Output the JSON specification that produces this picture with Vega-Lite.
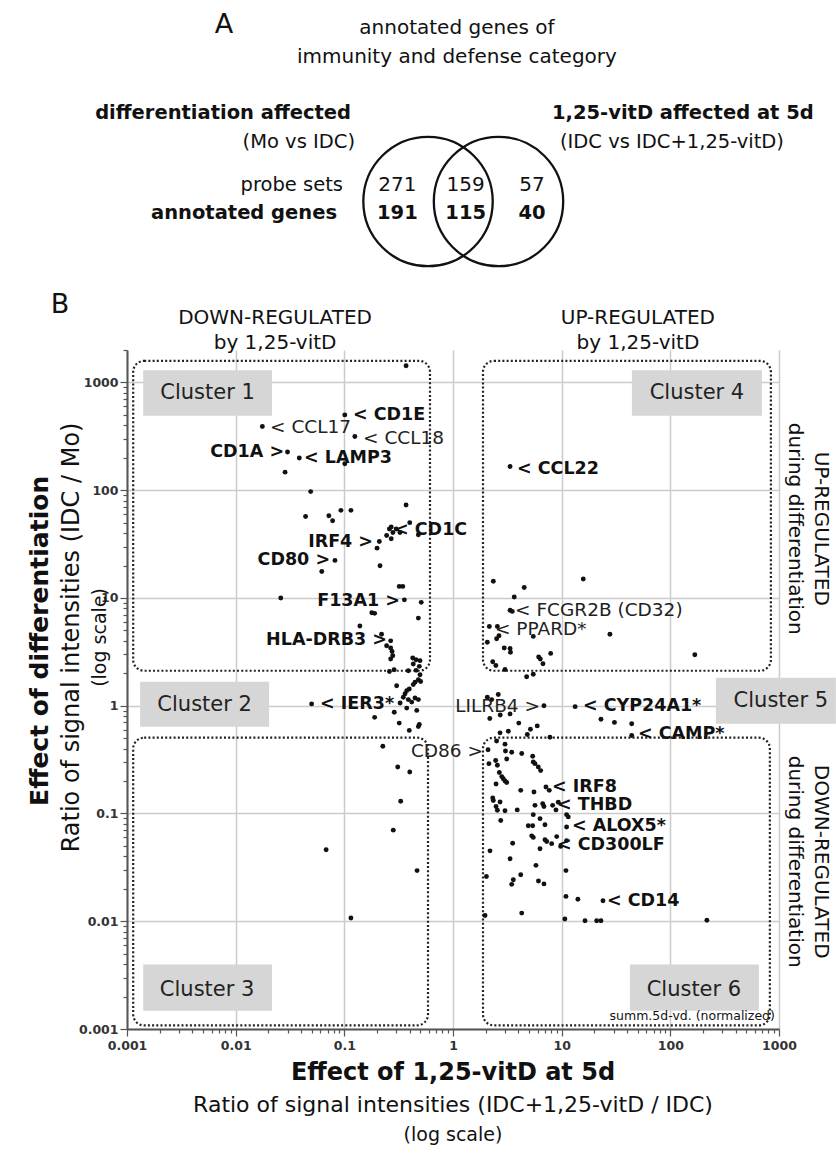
{
  "$schema": "https://vega.github.io/schema/vega-lite/v6.json",
  "background": "white",
  "padding": {"left": 28, "top": 5, "right": 0, "bottom": 5},
  "bounds": "flush",
  "spacing": 20,
  "config": {
    "view": {"stroke": null},
    "font": "DejaVu Sans",
    "text": {"font": "DejaVu Sans", "color": "#111"}
  },
  "datasets": {
    "venn_circles": [
      {"set": "differentiation affected (Mo vs IDC)", "u": 46.17, "v": 19.77},
      {"set": "1,25-vitD affected at 5d (IDC vs IDC+1,25-vitD)", "u": 56.98, "v": 19.77}
    ],
    "panel_a_letter": [{"text": "A", "u": 14.88, "v": 46.92}],
    "venn_heading": [
      {"text": "annotated genes  of", "u": 50.6, "v": 46.46},
      {"text": "immunity and defense category", "u": 50.6, "v": 42.0}
    ],
    "venn_left_bold": [
      {"text": "differentiation affected", "u": 34.36, "v": 33.38},
      {"text": "annotated genes", "u": 32.21, "v": 18.0}
    ],
    "venn_left_plain": [
      {"text": "(Mo vs IDC)", "u": 34.97, "v": 28.92},
      {"text": "probe sets", "u": 33.13, "v": 22.31}
    ],
    "venn_right_bold": [{"text": "1,25-vitD affected at 5d", "u": 65.18, "v": 33.38}],
    "venn_right_plain": [{"text": "(IDC vs IDC+1,25-vitD)", "u": 66.41, "v": 28.92}],
    "venn_probe_sets": [
      {"region": "differentiation only", "n": 271, "u": 41.47, "v": 22.31},
      {"region": "both", "n": 159, "u": 51.95, "v": 22.31},
      {"region": "1,25-vitD only", "n": 57, "u": 62.12, "v": 22.31}
    ],
    "venn_annotated_genes": [
      {"region": "differentiation only", "n": 191, "u": 41.47, "v": 18.0},
      {"region": "both", "n": 115, "u": 51.95, "v": 18.0},
      {"region": "1,25-vitD only", "n": 40, "u": 62.12, "v": 18.0}
    ],
    "genes": [
      {"x": 0.37, "y": 1430}, {"x": 0.101, "y": 500}, {"x": 0.0176, "y": 390}, {"x": 0.125, "y": 315},
      {"x": 0.030, "y": 226}, {"x": 0.0385, "y": 199}, {"x": 0.101, "y": 176}, {"x": 0.0285, "y": 147},
      {"x": 0.049, "y": 97}, {"x": 0.37, "y": 73}, {"x": 0.044, "y": 57}, {"x": 0.072, "y": 58},
      {"x": 0.078, "y": 52}, {"x": 0.093, "y": 65}, {"x": 0.115, "y": 65}, {"x": 0.40, "y": 50},
      {"x": 0.27, "y": 45.5}, {"x": 0.26, "y": 43.6}, {"x": 0.30, "y": 43.6}, {"x": 0.28, "y": 40.5},
      {"x": 0.325, "y": 40.5}, {"x": 0.245, "y": 38}, {"x": 0.27, "y": 35.4}, {"x": 0.48, "y": 38.6},
      {"x": 0.21, "y": 33.4}, {"x": 0.20, "y": 29}, {"x": 0.213, "y": 19.9}, {"x": 0.082, "y": 22.3},
      {"x": 0.062, "y": 17.6}, {"x": 0.32, "y": 12.8}, {"x": 0.345, "y": 12.8}, {"x": 0.357, "y": 9.6},
      {"x": 0.51, "y": 9.1}, {"x": 0.48, "y": 6.5}, {"x": 0.179, "y": 7.3}, {"x": 0.19, "y": 7.2},
      {"x": 0.026, "y": 10}, {"x": 0.139, "y": 5.5}, {"x": 0.22, "y": 4.6}, {"x": 0.267, "y": 4.0},
      {"x": 0.245, "y": 3.6}, {"x": 0.267, "y": 3.43}, {"x": 0.275, "y": 3.19}, {"x": 0.279, "y": 2.91},
      {"x": 0.267, "y": 2.71}, {"x": 0.426, "y": 2.77}, {"x": 0.457, "y": 2.67}, {"x": 0.497, "y": 2.62},
      {"x": 0.431, "y": 2.44}, {"x": 0.49, "y": 2.32}, {"x": 0.287, "y": 2.16}, {"x": 0.26, "y": 2.08},
      {"x": 0.388, "y": 2.11}, {"x": 0.457, "y": 2.13}, {"x": 0.497, "y": 1.94}, {"x": 0.48, "y": 1.74},
      {"x": 0.447, "y": 1.65}, {"x": 0.504, "y": 1.68}, {"x": 0.303, "y": 1.53}, {"x": 0.431, "y": 1.57},
      {"x": 0.396, "y": 1.43}, {"x": 0.375, "y": 1.38}, {"x": 0.362, "y": 1.29}, {"x": 0.349, "y": 1.2},
      {"x": 0.388, "y": 1.14}, {"x": 0.447, "y": 1.18}, {"x": 0.48, "y": 1.14}, {"x": 0.326, "y": 1.06},
      {"x": 0.417, "y": 1.08}, {"x": 0.375, "y": 0.95}, {"x": 0.288, "y": 0.87}, {"x": 0.464, "y": 0.905},
      {"x": 0.19, "y": 0.78}, {"x": 0.32, "y": 0.69}, {"x": 0.49, "y": 0.67}, {"x": 0.48, "y": 0.64},
      {"x": 0.396, "y": 0.59}, {"x": 0.050, "y": 1.04}, {"x": 0.226, "y": 0.42}, {"x": 0.31, "y": 0.27},
      {"x": 0.40, "y": 0.243}, {"x": 0.33, "y": 0.13}, {"x": 0.282, "y": 0.070}, {"x": 0.068, "y": 0.046},
      {"x": 0.467, "y": 0.0295}, {"x": 0.115, "y": 0.0107},
      {"x": 3.35, "y": 166}, {"x": 2.35, "y": 14.3}, {"x": 4.52, "y": 12.5}, {"x": 15.8, "y": 15},
      {"x": 3.66, "y": 10.2}, {"x": 3.35, "y": 7.7}, {"x": 3.51, "y": 7.5}, {"x": 2.16, "y": 5.44},
      {"x": 2.56, "y": 5.44}, {"x": 2.52, "y": 4.18}, {"x": 2.65, "y": 4.46}, {"x": 2.07, "y": 3.88},
      {"x": 5.48, "y": 4.4}, {"x": 27.8, "y": 4.6}, {"x": 2.96, "y": 3.43}, {"x": 3.35, "y": 3.4},
      {"x": 3.38, "y": 3.13}, {"x": 6.14, "y": 2.83}, {"x": 6.36, "y": 2.71}, {"x": 7.92, "y": 3.06},
      {"x": 6.73, "y": 2.45}, {"x": 2.32, "y": 2.56}, {"x": 2.48, "y": 2.36}, {"x": 3.01, "y": 2.17},
      {"x": 4.76, "y": 1.86}, {"x": 5.48, "y": 1.96}, {"x": 168, "y": 2.97},
      {"x": 6.87, "y": 1.0}, {"x": 13.3, "y": 0.98}, {"x": 23.0, "y": 0.75}, {"x": 30.6, "y": 0.70},
      {"x": 44.1, "y": 0.68}, {"x": 44.1, "y": 0.53}, {"x": 2.07, "y": 1.2}, {"x": 2.61, "y": 1.27},
      {"x": 2.27, "y": 1.14}, {"x": 2.18, "y": 0.76}, {"x": 2.72, "y": 0.82}, {"x": 3.35, "y": 0.84},
      {"x": 4.03, "y": 0.69}, {"x": 5.16, "y": 0.605}, {"x": 5.96, "y": 0.65}, {"x": 7.8, "y": 0.51},
      {"x": 2.71, "y": 0.56}, {"x": 3.23, "y": 0.58}, {"x": 4.83, "y": 0.54},
      {"x": 2.10, "y": 0.39}, {"x": 2.52, "y": 0.47}, {"x": 3.01, "y": 0.44}, {"x": 3.04, "y": 0.38},
      {"x": 3.47, "y": 0.37}, {"x": 4.29, "y": 0.36}, {"x": 5.41, "y": 0.34}, {"x": 2.14, "y": 0.29},
      {"x": 2.47, "y": 0.31}, {"x": 2.56, "y": 0.28}, {"x": 3.12, "y": 0.32}, {"x": 5.48, "y": 0.30},
      {"x": 5.68, "y": 0.29}, {"x": 6.09, "y": 0.27}, {"x": 6.41, "y": 0.25}, {"x": 2.67, "y": 0.24},
      {"x": 2.81, "y": 0.22}, {"x": 2.90, "y": 0.21}, {"x": 3.01, "y": 0.20}, {"x": 3.12, "y": 0.194},
      {"x": 2.49, "y": 0.188}, {"x": 4.20, "y": 0.164}, {"x": 5.56, "y": 0.158}, {"x": 7.17, "y": 0.176},
      {"x": 7.69, "y": 0.164}, {"x": 2.32, "y": 0.139}, {"x": 2.35, "y": 0.132}, {"x": 2.71, "y": 0.128},
      {"x": 2.49, "y": 0.116}, {"x": 2.56, "y": 0.107}, {"x": 3.01, "y": 0.106}, {"x": 3.90, "y": 0.108},
      {"x": 5.68, "y": 0.119}, {"x": 6.69, "y": 0.123}, {"x": 6.87, "y": 0.116}, {"x": 8.26, "y": 0.119},
      {"x": 8.86, "y": 0.108}, {"x": 9.31, "y": 0.127}, {"x": 11.1, "y": 0.0975}, {"x": 11.5, "y": 0.093},
      {"x": 2.75, "y": 0.086}, {"x": 5.48, "y": 0.0975}, {"x": 6.32, "y": 0.0895}, {"x": 4.93, "y": 0.077},
      {"x": 5.41, "y": 0.077}, {"x": 7.02, "y": 0.0787}, {"x": 11.1, "y": 0.075}, {"x": 5.30, "y": 0.062},
      {"x": 5.48, "y": 0.060}, {"x": 9.0, "y": 0.061}, {"x": 7.28, "y": 0.055}, {"x": 8.09, "y": 0.0525},
      {"x": 7.02, "y": 0.057}, {"x": 6.32, "y": 0.047}, {"x": 9.79, "y": 0.0495}, {"x": 11.1, "y": 0.056},
      {"x": 3.54, "y": 0.053}, {"x": 2.19, "y": 0.045}, {"x": 3.35, "y": 0.038}, {"x": 5.8, "y": 0.033},
      {"x": 10.95, "y": 0.0295}, {"x": 2.03, "y": 0.026}, {"x": 4.20, "y": 0.027}, {"x": 3.59, "y": 0.0243},
      {"x": 3.47, "y": 0.022}, {"x": 6.12, "y": 0.0236}, {"x": 6.87, "y": 0.0222}, {"x": 10.95, "y": 0.017},
      {"x": 14.1, "y": 0.016}, {"x": 24, "y": 0.0155}, {"x": 1.97, "y": 0.0113}, {"x": 4.29, "y": 0.0119},
      {"x": 10.7, "y": 0.0105}, {"x": 16.4, "y": 0.0101}, {"x": 21.0, "y": 0.0101}, {"x": 23.0, "y": 0.0101},
      {"x": 217, "y": 0.0102}
    ],
    "labels_bold_left": [
      {"label": "< CD1E", "x": 0.120, "y": 500},
      {"label": "< LAMP3", "x": 0.0426, "y": 200},
      {"label": "< CD1C", "x": 0.2866, "y": 42.9},
      {"label": "< IER3*", "x": 0.0598, "y": 1.04},
      {"label": "< CCL22", "x": 3.88, "y": 157},
      {"label": "< CYP24A1*", "x": 15.7, "y": 1.0},
      {"label": "< CAMP*", "x": 50.3, "y": 0.55},
      {"label": "< IRF8", "x": 8.14, "y": 0.1746},
      {"label": "< THBD", "x": 9.05, "y": 0.119},
      {"label": "< ALOX5*", "x": 12.44, "y": 0.0759},
      {"label": "< CD300LF", "x": 9.05, "y": 0.0513},
      {"label": "< CD14", "x": 26.1, "y": 0.0155}
    ],
    "labels_bold_right": [
      {"label": "CD1A >", "x": 0.0279, "y": 227},
      {"label": "IRF4 >", "x": 0.1837, "y": 33.4},
      {"label": "CD80 >", "x": 0.0739, "y": 22.3},
      {"label": "F13A1 >", "x": 0.3254, "y": 9.28},
      {"label": "HLA-DRB3 >", "x": 0.247, "y": 4.1}
    ],
    "labels_plain_left": [
      {"label": "< CCL17", "x": 0.0207, "y": 390},
      {"label": "< CCL18", "x": 0.1486, "y": 306},
      {"label": "< FCGR2B (CD32)", "x": 3.72, "y": 7.7},
      {"label": "< PPARD*", "x": 2.434, "y": 5.2}
    ],
    "labels_plain_right": [
      {"label": "LILRB4 >", "x": 6.32, "y": 1.0},
      {"label": "CD86 >", "x": 1.888, "y": 0.3768}
    ],
    "cluster_frames": [
      {"frame": "Cluster 1", "x": 0.00114, "x2": 0.614, "y": 2.11, "y2": 1586},
      {"frame": "Cluster 4", "x": 1.888, "x2": 842, "y": 2.11, "y2": 1586},
      {"frame": "Cluster 3", "x": 0.00114, "x2": 0.589, "y": 0.00108, "y2": 0.505},
      {"frame": "Cluster 6", "x": 1.888, "x2": 824, "y": 0.00108, "y2": 0.505}
    ],
    "cluster_tags": [
      {"cluster": "Cluster 1", "x": 0.00141, "x2": 0.0216, "y": 490, "y2": 1300},
      {"cluster": "Cluster 2", "x": 0.00132, "x2": 0.0203, "y": 0.639, "y2": 1.67},
      {"cluster": "Cluster 3", "x": 0.00141, "x2": 0.0216, "y": 0.00148, "y2": 0.00396},
      {"cluster": "Cluster 4", "x": 44.3, "x2": 696, "y": 490, "y2": 1300},
      {"cluster": "Cluster 5", "x": 262.8, "x2": 3338, "y": 0.681, "y2": 1.82},
      {"cluster": "Cluster 6", "x": 42.5, "x2": 653, "y": 0.00148, "y2": 0.00396}
    ],
    "cluster_tag_text": [
      {"cluster": "Cluster 1", "x": 0.00551, "y": 801},
      {"cluster": "Cluster 2", "x": 0.00518, "y": 1.02},
      {"cluster": "Cluster 3", "x": 0.00546, "y": 0.00232},
      {"cluster": "Cluster 4", "x": 175.7, "y": 801},
      {"cluster": "Cluster 5", "x": 1041, "y": 1.11},
      {"cluster": "Cluster 6", "x": 164.8, "y": 0.00232}
    ],
    "panel_b_letter": [{"text": "B", "x": 0.000242, "y": 5250}],
    "column_headers": [
      {"text": "DOWN-REGULATED", "x": 0.02305, "y": 3950},
      {"text": "by 1,25-vitD", "x": 0.02305, "y": 2330},
      {"text": "UP-REGULATED", "x": 50.3, "y": 3950},
      {"text": "by 1,25-vitD", "x": 50.3, "y": 2330}
    ],
    "row_headers": [
      {"text": "UP-REGULATED", "x": 2429, "y": 43.9},
      {"text": "during differentiation", "x": 1400, "y": 43.9},
      {"text": "DOWN-REGULATED", "x": 2429, "y": 0.0357},
      {"text": "during differentiation", "x": 1400, "y": 0.0357}
    ],
    "x_title": [{"text": "Effect of 1,25-vitD at 5d", "x": 1, "y": 0.000394}],
    "x_subtitle": [{"text": "Ratio of signal intensities (IDC+1,25-vitD / IDC)", "x": 1, "y": 0.000199}],
    "x_scale_note": [{"text": "(log scale)", "x": 1, "y": 0.0001047}],
    "y_title": [{"text": "Effect of differentiation", "x": 0.0001587, "y": 4.0}],
    "y_subtitle": [{"text": "Ratio of signal intensities (IDC / Mo)", "x": 0.000313, "y": 4.3}],
    "y_scale_note": [{"text": "(log scale)", "x": 0.000566, "y": 4.3}],
    "footnote": [{"text": "summ.5d-vd. (normalized)", "x": 917, "y": 0.00131}]
  },
  "vconcat": [
    {
      "width": 652,
      "height": 325,
      "encoding": {
        "x": {"field": "u", "type": "quantitative", "scale": {"domain": [0, 100], "nice": false, "zero": false}, "axis": null},
        "y": {"field": "v", "type": "quantitative", "scale": {"domain": [0, 50], "nice": false, "zero": false}, "axis": null}
      },
      "layer": [
        {"data": {"name": "venn_circles"}, "mark": {"type": "point", "shape": "circle", "filled": false, "size": 16742, "stroke": "#111", "strokeWidth": 2.3, "opacity": 1}},
        {"data": {"name": "panel_a_letter"}, "mark": {"type": "text", "fontSize": 27, "align": "center", "baseline": "middle"}, "encoding": {"text": {"field": "text"}}},
        {"data": {"name": "venn_heading"}, "mark": {"type": "text", "fontSize": 20, "align": "center", "baseline": "middle"}, "encoding": {"text": {"field": "text"}}},
        {"data": {"name": "venn_left_bold"}, "mark": {"type": "text", "fontSize": 19.5, "fontWeight": "bold", "align": "right", "baseline": "middle"}, "encoding": {"text": {"field": "text"}}},
        {"data": {"name": "venn_left_plain"}, "mark": {"type": "text", "fontSize": 19.5, "align": "right", "baseline": "middle"}, "encoding": {"text": {"field": "text"}}},
        {"data": {"name": "venn_right_bold"}, "mark": {"type": "text", "fontSize": 19.5, "fontWeight": "bold", "align": "left", "baseline": "middle"}, "encoding": {"text": {"field": "text"}}},
        {"data": {"name": "venn_right_plain"}, "mark": {"type": "text", "fontSize": 19.5, "align": "left", "baseline": "middle"}, "encoding": {"text": {"field": "text"}}},
        {"data": {"name": "venn_probe_sets"}, "mark": {"type": "text", "fontSize": 20, "align": "center", "baseline": "middle"}, "encoding": {"text": {"field": "n", "type": "nominal"}}},
        {"data": {"name": "venn_annotated_genes"}, "mark": {"type": "text", "fontSize": 19.5, "fontWeight": "bold", "align": "center", "baseline": "middle"}, "encoding": {"text": {"field": "n", "type": "nominal"}}}
      ]
    },
    {
      "width": 652,
      "height": 679,
      "encoding": {
        "x": {
          "field": "x", "type": "quantitative",
          "scale": {"type": "log", "domain": [0.001, 1000], "nice": false, "zero": false},
          "axis": {
            "title": null,
            "values": [0.001,0.002,0.003,0.004,0.005,0.006,0.007,0.008,0.009,0.01,0.02,0.03,0.04,0.05,0.06,0.07,0.08,0.09,0.1,0.2,0.3,0.4,0.5,0.6,0.7,0.8,0.9,1,2,3,4,5,6,7,8,9,10,20,30,40,50,60,70,80,90,100,200,300,400,500,600,700,800,900,1000],
            "labelExpr": "indexof([0.001,0.01,0.1,1,10,100,1000], datum.value) >= 0 ? toString(datum.value) : ''",
            "labelFont": "DejaVu Sans", "labelFontSize": 12.5, "labelFontWeight": "bold", "labelColor": "#333",
            "labelFlush": false, "labelOverlap": false, "labelPadding": 3,
            "grid": true, "gridColor": "#cbcbcb", "gridWidth": 1.5,
            "gridOpacity": {"condition": {"test": "indexof([0.001,0.01,0.1,1,10,100,1000], datum.value) >= 0", "value": 1}, "value": 0},
            "tickSize": {"condition": {"test": "indexof([0.001,0.01,0.1,1,10,100,1000], datum.value) >= 0", "value": 7}, "value": 4},
            "tickColor": "#555", "tickWidth": 1.2, "domainColor": "#555", "domainWidth": 2
          }
        },
        "y": {
          "field": "y", "type": "quantitative",
          "scale": {"type": "log", "domain": [0.001, 2000], "nice": false, "zero": false},
          "axis": {
            "title": null,
            "values": [0.001,0.002,0.003,0.004,0.005,0.006,0.007,0.008,0.009,0.01,0.02,0.03,0.04,0.05,0.06,0.07,0.08,0.09,0.1,0.2,0.3,0.4,0.5,0.6,0.7,0.8,0.9,1,2,3,4,5,6,7,8,9,10,20,30,40,50,60,70,80,90,100,200,300,400,500,600,700,800,900,1000,2000],
            "labelExpr": "indexof([0.001,0.01,0.1,1,10,100,1000], datum.value) >= 0 ? toString(datum.value) : ''",
            "labelFont": "DejaVu Sans", "labelFontSize": 12.5, "labelFontWeight": "bold", "labelColor": "#333",
            "labelFlush": false, "labelOverlap": false, "labelPadding": 2,
            "grid": true, "gridColor": "#cbcbcb", "gridWidth": 1.5,
            "gridOpacity": {"condition": {"test": "indexof([0.001,0.01,0.1,1,10,100,1000], datum.value) >= 0", "value": 1}, "value": 0},
            "tickSize": {"condition": {"test": "indexof([0.001,0.01,0.1,1,10,100,1000], datum.value) >= 0", "value": 7}, "value": 4},
            "tickColor": "#555", "tickWidth": 1.2, "domainColor": "#555", "domainWidth": 2
          }
        }
      },
      "layer": [
        {"data": {"name": "cluster_frames"}, "mark": {"type": "rect", "filled": false, "stroke": "#222", "strokeWidth": 2.2, "strokeDash": [2, 2.2], "cornerRadius": 11}, "encoding": {"x2": {"field": "x2"}, "y2": {"field": "y2"}}},
        {"data": {"name": "cluster_tags"}, "mark": {"type": "rect", "fill": "#d6d6d6", "stroke": null}, "encoding": {"x2": {"field": "x2"}, "y2": {"field": "y2"}}},
        {"data": {"name": "cluster_tag_text"}, "mark": {"type": "text", "fontSize": 21, "align": "center", "baseline": "middle", "color": "#222"}, "encoding": {"text": {"field": "cluster"}}},
        {"data": {"name": "genes"}, "mark": {"type": "circle", "size": 24, "color": "#111", "opacity": 1}},
        {"data": {"name": "labels_bold_left"}, "mark": {"type": "text", "fontSize": 17.5, "fontWeight": "bold", "align": "left", "baseline": "middle"}, "encoding": {"text": {"field": "label"}}},
        {"data": {"name": "labels_bold_right"}, "mark": {"type": "text", "fontSize": 17.5, "fontWeight": "bold", "align": "right", "baseline": "middle"}, "encoding": {"text": {"field": "label"}}},
        {"data": {"name": "labels_plain_left"}, "mark": {"type": "text", "fontSize": 18.5, "align": "left", "baseline": "middle", "color": "#222"}, "encoding": {"text": {"field": "label"}}},
        {"data": {"name": "labels_plain_right"}, "mark": {"type": "text", "fontSize": 18.5, "align": "right", "baseline": "middle", "color": "#222"}, "encoding": {"text": {"field": "label"}}},
        {"data": {"name": "panel_b_letter"}, "mark": {"type": "text", "fontSize": 27, "align": "center", "baseline": "middle"}, "encoding": {"text": {"field": "text"}}},
        {"data": {"name": "column_headers"}, "mark": {"type": "text", "fontSize": 20, "align": "center", "baseline": "middle"}, "encoding": {"text": {"field": "text"}}},
        {"data": {"name": "row_headers"}, "mark": {"type": "text", "fontSize": 20, "align": "center", "baseline": "middle", "angle": 90}, "encoding": {"text": {"field": "text"}}},
        {"data": {"name": "x_title"}, "mark": {"type": "text", "fontSize": 24, "fontWeight": "bold", "align": "center", "baseline": "middle"}, "encoding": {"text": {"field": "text"}}},
        {"data": {"name": "x_subtitle"}, "mark": {"type": "text", "fontSize": 22, "align": "center", "baseline": "middle"}, "encoding": {"text": {"field": "text"}}},
        {"data": {"name": "x_scale_note"}, "mark": {"type": "text", "fontSize": 19, "align": "center", "baseline": "middle"}, "encoding": {"text": {"field": "text"}}},
        {"data": {"name": "y_title"}, "mark": {"type": "text", "fontSize": 25, "fontWeight": "bold", "align": "center", "baseline": "middle", "angle": 270}, "encoding": {"text": {"field": "text"}}},
        {"data": {"name": "y_subtitle"}, "mark": {"type": "text", "fontSize": 24, "align": "center", "baseline": "middle", "angle": 270}, "encoding": {"text": {"field": "text"}}},
        {"data": {"name": "y_scale_note"}, "mark": {"type": "text", "fontSize": 19, "align": "center", "baseline": "middle", "angle": 270}, "encoding": {"text": {"field": "text"}}},
        {"data": {"name": "footnote"}, "mark": {"type": "text", "fontSize": 12.5, "align": "right", "baseline": "middle"}, "encoding": {"text": {"field": "text"}}}
      ]
    }
  ]
}
